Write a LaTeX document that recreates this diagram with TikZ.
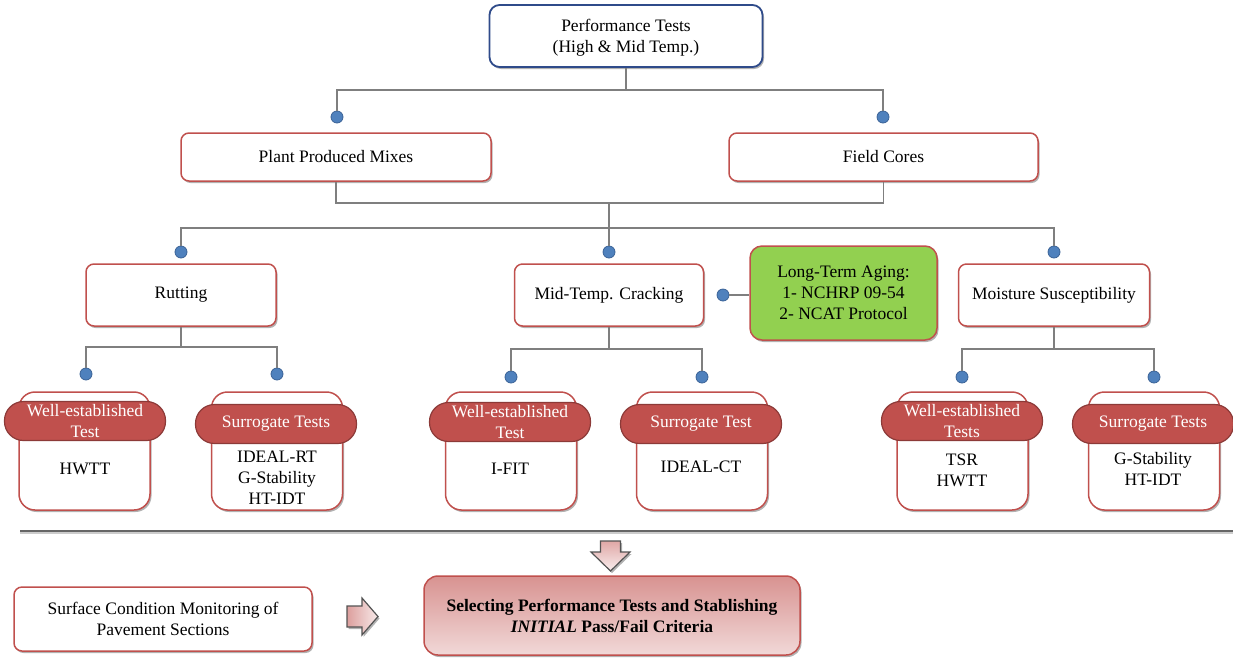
\documentclass[tikz,border=0pt]{standalone}
\usepackage{fontspec}
\setmainfont{Liberation Serif}
\usetikzlibrary{shadows}
\definecolor{boxred}{HTML}{C0504D}
\definecolor{bannerdark}{HTML}{8C3A38}
\definecolor{topblue}{HTML}{2F4B8A}
\definecolor{dotblue}{HTML}{4F81BD}
\definecolor{dotedge}{HTML}{3A6296}
\definecolor{linegray}{HTML}{7F7F7F}
\definecolor{agegreen}{HTML}{92D050}
\begin{document}
\begin{tikzpicture}[x=1pt,y=-1pt,
  font=\fontsize{17.5pt}{21pt}\selectfont,
  shadowed/.style={drop shadow={shadow xshift=1.5pt,shadow yshift=-2pt,opacity=0.3,fill=black}},
  box/.style={draw=boxred,line width=1.5pt,rounded corners=8pt,fill=white,align=center,inner sep=0pt,shadowed},
  topbox/.style={box,draw=topblue,line width=1.8pt,rounded corners=10pt},
  greenbox/.style={box,fill=agegreen,rounded corners=12pt},
  leaf/.style={draw=boxred,line width=1.5pt,rounded corners=16pt,fill=white,minimum width=131pt,minimum height=118pt,inner sep=0pt,shadowed},
  banner/.style={draw=bannerdark,line width=1.2pt,rounded corners=19pt,fill=boxred,text=white,align=center,inner sep=0pt,minimum height=39pt,minimum width=161pt},
  leaftext/.style={align=center,inner sep=0pt},
  dot/.style={circle,fill=dotblue,draw=dotedge,line width=0.8pt,minimum size=12pt,inner sep=0pt},
  conn/.style={draw=linegray,line width=1.8pt},
  blockarrow/.style={draw=gray!65!black,line width=1.2pt,line join=miter,shadowed}
]
\useasboundingbox (0,0) rectangle (1233,657);

% level 1
\node[topbox,minimum width=273pt,minimum height=62pt] (perf) at (626,36) {\rule{0pt}{16pt}Performance Tests\\(High \& Mid Temp.)};

% level 2
\node[box,minimum width=310pt,minimum height=48pt] (plant) at (336,157) {Plant Produced Mixes};
\node[box,minimum width=309pt,minimum height=48pt] (field) at (883.5,157) {Field Cores};
\node[dot] (d1) at (337,117) {};
\node[dot] (d2) at (883,117) {};
\coordinate (j1) at (626,90);
\draw[conn] (perf.south) -- (j1) -| (d1.north);
\draw[conn] (j1) -| (d2.north);

% level 3
\node[box,minimum width=190pt,minimum height=62pt] (rut) at (181,295) {Rutting};
\node[box,minimum width=189pt,minimum height=62pt] (mid) at (609,295) {Mid-Temp. Cracking};
\node[box,minimum width=191pt,minimum height=62pt] (moist) at (1054,295) {Moisture Susceptibility};
\node[greenbox,minimum width=187pt,minimum height=94pt] (age) at (843.5,293) {Long-Term Aging:\\1- NCHRP 09-54\\2- NCAT Protocol};
\node[dot] (d3) at (181,252) {};
\node[dot] (d4) at (609,252) {};
\node[dot] (d5) at (1054,252) {};
\node[dot] (d6) at (723,295) {};
\coordinate (j2) at (609,203);
\coordinate (j3) at (609,228);
\draw[conn] (plant.south) |- (j2);
\draw[conn] (field.south) |- (j2);
\draw[conn] (j2) -- (j3) -| (d3.north);
\draw[conn] (j3) -- (d4.north);
\draw[conn] (j3) -| (d5.north);
\draw[conn] (d6.east) -- (d6.east -| age.west);

% level 4 junctions
\node[dot] (d7) at (86,374) {};
\node[dot] (d8) at (277,374) {};
\node[dot] (d9) at (511,377) {};
\node[dot] (d10) at (702,377) {};
\node[dot] (d11) at (962,377) {};
\node[dot] (d12) at (1154,377) {};
\coordinate (jr) at (181,347);
\coordinate (jm) at (609,349);
\coordinate (jo) at (1054,349);
\draw[conn] (rut.south) -- (jr) -| (d7.north);
\draw[conn] (jr) -| (d8.north);
\draw[conn] (mid.south) -- (jm) -| (d9.north);
\draw[conn] (jm) -| (d10.north);
\draw[conn] (moist.south) -- (jo) -| (d11.north);
\draw[conn] (jo) -| (d12.north);

% leaves
\node[leaf] (l1) at (84.5,451) {};
\node[leaf] (l2) at (277,451) {};
\node[leaf] (l3) at (511,451) {};
\node[leaf] (l4) at (702,451) {};
\node[leaf] (l5) at (962.5,451) {};
\node[leaf] (l6) at (1154,451) {};

\node[banner] (b1) at (85,421) {Well-established\\Test};
\node[banner] (b2) at (276,424) {Surrogate Tests};
\node[banner] (b3) at (510,422) {Well-established\\Test};
\node[banner] (b4) at (701,424) {Surrogate Test};
\node[banner] (b5) at (962,421) {Well-established\\Tests};
\node[banner] (b6) at (1153,424) {Surrogate Tests};

\node[leaftext] (t1) at (85,469) {HWTT};
\node[leaftext] (t2) at (277,478) {IDEAL-RT\\G-Stability\\HT-IDT};
\node[leaftext] (t3) at (510,469) {I-FIT};
\node[leaftext] (t4) at (701,467) {IDEAL-CT};
\node[leaftext] (t5) at (962,470) {TSR\\HWTT};
\node[leaftext] (t6) at (1153,469) {G-Stability\\HT-IDT};

% separator
\coordinate (sepL) at (20,531);
\coordinate (sepR) at (1233,531);
\coordinate (sepL2) at (20,532.8);
\coordinate (sepR2) at (1233,532.8);
\draw[draw=gray!40,line width=3pt] (sepL2) -- (sepR2);
\draw[draw=gray!80!black,line width=1.6pt] (sepL) -- (sepR);

% bottom arrows (block arrows drawn as outlines)
\coordinate (down) at (610.5,541);
\draw[blockarrow,top color=boxred!50,bottom color=boxred!10]
  (down) ++(-10,0) -- ++(20,0) -- ++(0,11) -- ++(9.5,0) -- ++(-19.5,19) -- ++(-19.5,-19) -- ++(9.5,0) -- cycle;
\coordinate (right) at (347,616.5);
\draw[blockarrow,left color=boxred!55,right color=boxred!12]
  (right) ++(0,-10.5) -- ++(15,0) -- ++(0,-8) -- ++(16,18.5) -- ++(-16,18.5) -- ++(0,-8) -- ++(-15,0) -- cycle;

\node[box,minimum width=298pt,minimum height=64pt] (surf) at (163,619) {Surface Condition Monitoring of\\Pavement Sections};
\node[box,minimum width=376pt,minimum height=79pt,rounded corners=14pt,top color=boxred!62,bottom color=boxred!22,font=\fontsize{17.5pt}{21pt}\selectfont\bfseries] (sel) at (612,615.5) {Selecting Performance Tests and Stablishing\\\textit{INITIAL} Pass/Fail Criteria};
\end{tikzpicture}
\end{document}
